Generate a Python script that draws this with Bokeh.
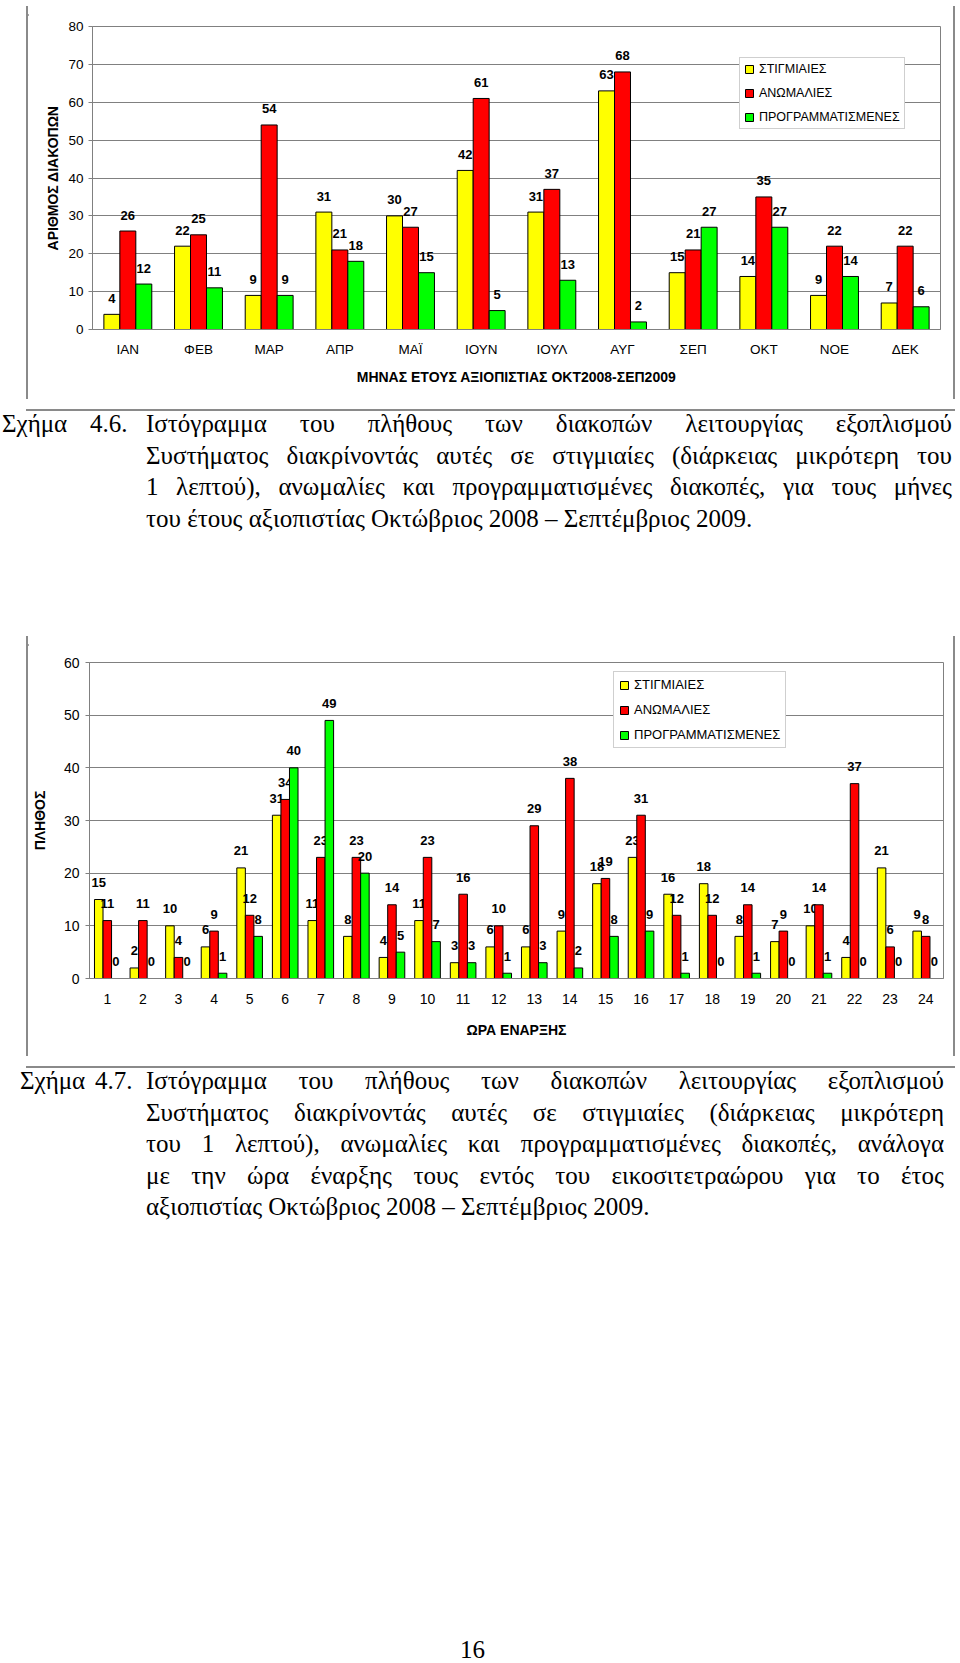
from bokeh.plotting import figure
from bokeh.models import (FactorRange, Range1d, Legend, LegendItem, Div,
                          ColumnDataSource, FixedTicker)
from bokeh.transform import dodge
from bokeh.layouts import column, row
from bokeh.core.properties import value
from bokeh.embed import file_html
from bokeh.resources import INLINE

# ---------------- data ----------------
series_names = ["ΣΤΙΓΜΙΑΙΕΣ", "ΑΝΩΜΑΛΙΕΣ", "ΠΡΟΓΡΑΜΜΑΤΙΣΜΕΝΕΣ"]
series_colors = ["#FFFF00", "#FF0000", "#00FF00"]

months = ["ΙΑΝ", "ΦΕΒ", "ΜΑΡ", "ΑΠΡ", "ΜΑΪ", "ΙΟΥΝ", "ΙΟΥΛ", "ΑΥΓ",
          "ΣΕΠ", "ΟΚΤ", "ΝΟΕ", "ΔΕΚ"]
m_stigmiaies = [4, 22, 9, 31, 30, 42, 31, 63, 15, 14, 9, 7]
m_anomalies = [26, 25, 54, 21, 27, 61, 37, 68, 21, 35, 22, 22]
m_programmatismenes = [12, 11, 9, 18, 15, 5, 13, 2, 27, 27, 14, 6]

hours = [str(h) for h in range(1, 25)]
h_stigmiaies = [15, 2, 10, 6, 21, 31, 11, 8, 4, 11, 3, 6, 6, 9, 18, 23,
                16, 18, 8, 7, 10, 4, 21, 9]
h_anomalies = [11, 11, 4, 9, 12, 34, 23, 23, 14, 23, 16, 10, 29, 38, 19, 31,
               12, 12, 14, 9, 14, 37, 6, 8]
h_programmatismenes = [0, 0, 0, 1, 8, 40, 49, 20, 5, 7, 3, 1, 3, 2, 8, 9,
                       1, 0, 1, 0, 1, 0, 0, 0]

y1_ticks = [0, 10, 20, 30, 40, 50, 60, 70, 80]
y2_ticks = [0, 10, 20, 30, 40, 50, 60]

x1_title = "ΜΗΝΑΣ ΕΤΟΥΣ ΑΞΙΟΠΙΣΤΙΑΣ ΟΚΤ2008-ΣΕΠ2009"
y1_title = "ΑΡΙΘΜΟΣ ΔΙΑΚΟΠΩΝ"
x2_title = "ΩΡΑ ΕΝΑΡΞΗΣ"
y2_title = "ΠΛΗΘΟΣ"

caption1_lines = [
    "Ιστόγραμμα του πλήθους των διακοπών λειτουργίας εξοπλισμού",
    "Συστήματος διακρίνοντάς αυτές σε στιγμιαίες (διάρκειας μικρότερη του",
    "1 λεπτού), ανωμαλίες και προγραμματισμένες διακοπές, για τους μήνες",
    "του έτους αξιοπιστίας Οκτώβριος 2008 – Σεπτέμβριος 2009.",
]
caption2_lines = [
    "Ιστόγραμμα του πλήθους των διακοπών λειτουργίας εξοπλισμού",
    "Συστήματος διακρίνοντάς αυτές σε στιγμιαίες (διάρκειας μικρότερη",
    "του 1 λεπτού), ανωμαλίες και προγραμματισμένες διακοπές, ανάλογα",
    "με την ώρα έναρξης τους εντός του εικοσιτετραώρου για το έτος",
    "αξιοπιστίας Οκτώβριος 2008 – Σεπτέμβριος 2009.",
]
page_number = "16"

SANS = "Liberation Sans"
GRAY = "#808080"
BORDER = "#8a8a8a"


def line_div(w, h):
    return Div(text=f'<div style="width:{w}px;height:{h}px;'
                    f'background:{BORDER}"></div>', width=w, height=h,
               margin=(0, 0, 0, 0))


def make_chart(cats, vals, ymax, yticks, xtitle, ytitle, width, height,
               borders, bar_w, legend_loc, tick_size, legend_size,
               label_off, ylab_standoff, ytick_standoff, xtick_standoff,
               xlab_standoff, legend_spacing, legend_padding):
    left, right, top, bottom = borders
    p = figure(x_range=FactorRange(*cats), y_range=Range1d(0, ymax),
               width=width, height=height, output_backend="svg",
               toolbar_location=None, min_border_left=left,
               min_border_right=right, min_border_top=top,
               min_border_bottom=bottom, background_fill_color="white",
               border_fill_color="white", margin=(0, 0, 0, 0))
    p.outline_line_color = GRAY
    p.outline_line_width = 1
    p.xgrid.grid_line_color = None
    p.ygrid.grid_line_color = GRAY
    p.ygrid.grid_line_width = 1
    p.yaxis.ticker = FixedTicker(ticks=yticks)

    for ax in (p.xaxis[0], p.yaxis[0]):
        ax.axis_line_color = GRAY
        ax.major_tick_line_color = GRAY
        ax.minor_tick_line_color = None
        ax.major_label_text_font = SANS
        ax.major_label_text_font_size = tick_size
        ax.major_label_text_color = "black"
        ax.axis_label_text_font = SANS
        ax.axis_label_text_font_style = "bold"
        ax.axis_label_text_font_size = "14px"
        ax.axis_label_text_color = "black"
    p.xaxis.major_tick_out = 0
    p.xaxis.major_tick_in = 0
    p.xaxis.major_label_standoff = xtick_standoff
    p.xaxis.axis_label = xtitle
    p.xaxis.axis_label_standoff = xlab_standoff
    p.yaxis.major_tick_out = 4
    p.yaxis.major_tick_in = 0
    p.yaxis.major_label_standoff = ytick_standoff
    p.yaxis.axis_label = ytitle
    p.yaxis.axis_label_standoff = ylab_standoff

    offsets = [-bar_w, 0.0, bar_w]
    items = []
    for name, col, off, v in zip(series_names, series_colors, offsets, vals):
        src = ColumnDataSource(dict(cat=cats, v=v, lbl=[str(a) for a in v]))
        r = p.vbar(x=dodge("cat", off, range=p.x_range), top="v",
                   width=bar_w, source=src, fill_color=col,
                   line_color="black", line_width=1)
        p.text(x=dodge("cat", off, range=p.x_range), y="v", text="lbl",
               source=src, text_align="center", text_baseline="middle",
               y_offset=-label_off, text_font=value(SANS),
               text_font_style="bold", text_font_size="13px",
               text_color="black")
        items.append(LegendItem(label=name, renderers=[r]))

    legend = Legend(items=items, location=legend_loc,
                    label_text_font=SANS, label_text_font_size=legend_size,
                    label_text_color="black", glyph_width=10,
                    glyph_height=10, label_height=14, label_standoff=5,
                    spacing=legend_spacing, padding=legend_padding,
                    margin=0, border_line_color="#a0a0a0",
                    border_line_width=1, background_fill_color="white",
                    background_fill_alpha=1.0)
    p.add_layout(legend)
    return p


def framed(p, outer_w, outer_h, top_margin):
    inner_h = outer_h - 4
    middle = row(line_div(2, inner_h), p, line_div(2, inner_h),
                 spacing=0, margin=(0, 0, 0, 0))
    block = column(line_div(outer_w, 2), middle, line_div(outer_w, 2),
                   spacing=0, margin=(top_margin, 0, 0, 26))
    return block


# chart 1: outer box 929x397 (page x 26..955, y 4..401)
chart1 = make_chart(months, [m_stigmiaies, m_anomalies, m_programmatismenes],
                    80, y1_ticks, x1_title, y1_title, 925, 393,
                    (64, 13, 20, 70), 0.226, (647, 200), "13.5px",
                    "12.5px", 16, 4, 5, 12, 9, 10, 4)
# chart 2: outer box 929x424 (page x 26..955, y 634..1058)
chart2 = make_chart(hours, [h_stigmiaies, h_anomalies, h_programmatismenes],
                    60, y2_ticks, x2_title, y2_title, 925, 420,
                    (60, 10, 26, 78), 0.24, (524, 230), "14px", "13px",
                    17, 13, 6, 15, 15, 10, 5)

block1 = framed(chart1, 929, 397, 4)
block2 = framed(chart2, 929, 424, 0)


def caption_div(label, num, lines, w1, w2, width, height, left_margin):
    base = ("font-family:'Liberation Serif','Times New Roman',serif;"
            "font-size:25px;line-height:31.5px;color:#000;padding-top:7px;")
    indent = w1 + w2
    parts = []
    first = ('<div style="display:flex;">'
             f'<span style="flex:none;width:{w1}px">{label}</span>'
             f'<span style="flex:none;width:{w2}px">{num}</span>'
             '<div style="flex:1;text-align:justify;text-align-last:justify">'
             f'{lines[0]}</div></div>')
    parts.append(first)
    for i, ln in enumerate(lines[1:], start=1):
        last = "left" if i == len(lines) - 1 else "justify"
        parts.append(f'<div style="margin-left:{indent}px;text-align:justify;'
                     f'text-align-last:{last}">{ln}</div>')
    html = f'<div style="{base}width:{width}px">' + "".join(parts) + "</div>"
    return Div(text=html, width=width, height=height,
               margin=(0, 0, 0, left_margin))


cap1 = caption_div("Σχήμα", "4.6.", caption1_lines, 88, 56, 950, 233, 2)
cap2 = caption_div("Σχήμα", "4.7.", caption2_lines, 75, 51, 924, 166, 20)

pn = Div(text=('<div style="font-family:\'Liberation Serif\',serif;'
               'font-size:25px;line-height:24px;color:#000;'
               f'padding-top:414px;padding-left:460px">{page_number}</div>'),
         width=520, height=438, margin=(0, 0, 0, 0))

layout = column(block1, cap1, block2, cap2, pn, spacing=0,
                margin=(0, 0, 0, 0))

open("out.html", "w").write(file_html(layout, INLINE))
